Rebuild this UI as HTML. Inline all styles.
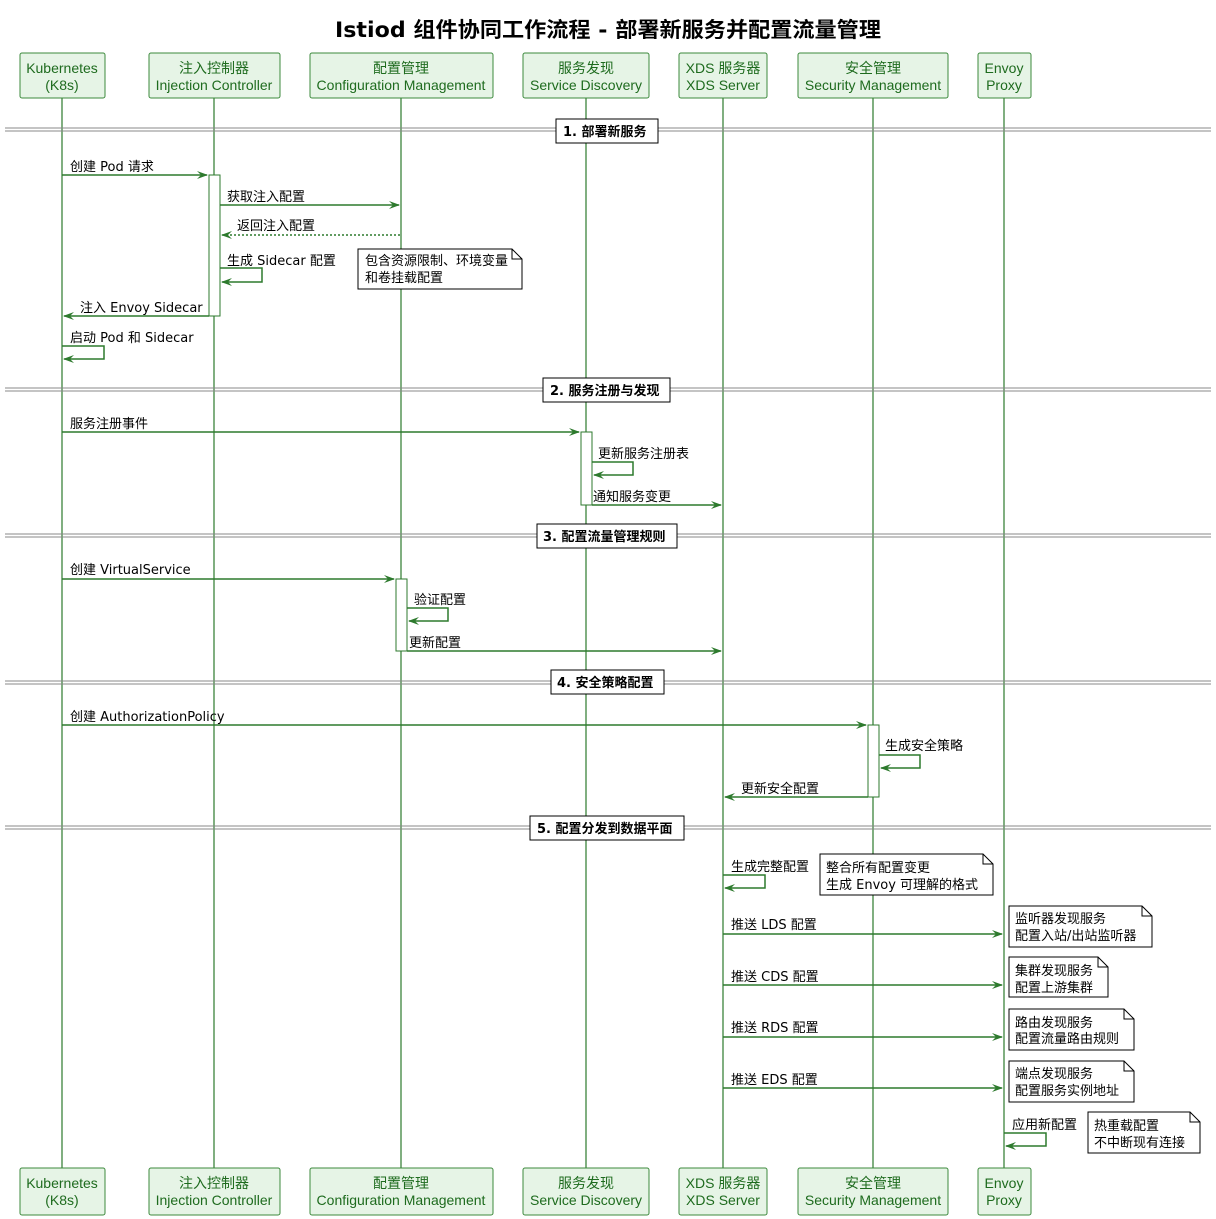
<!DOCTYPE html>
<html><head><meta charset="utf-8"><style>
html,body{margin:0;padding:0;background:#fff}
svg{display:block}
.t{font-family:"DejaVu Sans","Noto Sans CJK SC",sans-serif;font-size:13px;fill:#000}
.p{font-family:"Liberation Sans","Noto Sans CJK SC",sans-serif;font-size:14px;fill:#1e6b1e}
.s{font-family:"DejaVu Sans","Noto Sans CJK SC",sans-serif;font-size:13px;font-weight:bold;fill:#000}
</style></head><body>
<svg width="1216" height="1219" viewBox="0 0 1216 1219" xmlns="http://www.w3.org/2000/svg">
<text x="608" y="37" text-anchor="middle" font-family="DejaVu Sans,Noto Sans CJK SC,sans-serif" font-size="21" font-weight="bold" textLength="546" lengthAdjust="spacingAndGlyphs">Istiod 组件协同工作流程 - 部署新服务并配置流量管理</text>

<g stroke="#2d7a2d" stroke-width="1.2">
<line x1="62" y1="98" x2="62" y2="1168"/>
<line x1="214" y1="98" x2="214" y2="1168"/>
<line x1="401" y1="98" x2="401" y2="1168"/>
<line x1="586" y1="98" x2="586" y2="1168"/>
<line x1="723" y1="98" x2="723" y2="1168"/>
<line x1="873" y1="98" x2="873" y2="1168"/>
<line x1="1004" y1="98" x2="1004" y2="1168"/>
</g>

<g fill="#e6f4e6" stroke="#3c8a3c" stroke-width="1">
<rect x="20" y="53" width="85" height="45" rx="2"/>
<rect x="149" y="53" width="131" height="45" rx="2"/>
<rect x="310" y="53" width="183" height="45" rx="2"/>
<rect x="523" y="53" width="126" height="45" rx="2"/>
<rect x="679" y="53" width="88" height="45" rx="2"/>
<rect x="798" y="53" width="150" height="45" rx="2"/>
<rect x="978" y="53" width="53" height="45" rx="2"/>
<rect x="20" y="1168" width="85" height="47" rx="2"/>
<rect x="149" y="1168" width="131" height="47" rx="2"/>
<rect x="310" y="1168" width="183" height="47" rx="2"/>
<rect x="523" y="1168" width="126" height="47" rx="2"/>
<rect x="679" y="1168" width="88" height="47" rx="2"/>
<rect x="798" y="1168" width="150" height="47" rx="2"/>
<rect x="978" y="1168" width="53" height="47" rx="2"/>
</g>
<g class="p" text-anchor="middle">
<text x="62" y="73">Kubernetes</text><text x="62" y="90">(K8s)</text>
<text x="214" y="73">注入控制器</text><text x="214" y="90">Injection Controller</text>
<text x="401" y="73">配置管理</text><text x="401" y="90">Configuration Management</text>
<text x="586" y="73">服务发现</text><text x="586" y="90">Service Discovery</text>
<text x="723" y="73">XDS 服务器</text><text x="723" y="90">XDS Server</text>
<text x="873" y="73">安全管理</text><text x="873" y="90">Security Management</text>
<text x="1004" y="73">Envoy</text><text x="1004" y="90">Proxy</text>
<text x="62" y="1188">Kubernetes</text><text x="62" y="1205">(K8s)</text>
<text x="214" y="1188">注入控制器</text><text x="214" y="1205">Injection Controller</text>
<text x="401" y="1188">配置管理</text><text x="401" y="1205">Configuration Management</text>
<text x="586" y="1188">服务发现</text><text x="586" y="1205">Service Discovery</text>
<text x="723" y="1188">XDS 服务器</text><text x="723" y="1205">XDS Server</text>
<text x="873" y="1188">安全管理</text><text x="873" y="1205">Security Management</text>
<text x="1004" y="1188">Envoy</text><text x="1004" y="1205">Proxy</text>
</g>

<g stroke="#888" stroke-width="1">
<line x1="5" y1="128" x2="1211" y2="128"/><line x1="5" y1="131" x2="1211" y2="131"/>
<line x1="5" y1="388" x2="1211" y2="388"/><line x1="5" y1="391" x2="1211" y2="391"/>
<line x1="5" y1="534" x2="1211" y2="534"/><line x1="5" y1="537" x2="1211" y2="537"/>
<line x1="5" y1="681" x2="1211" y2="681"/><line x1="5" y1="684" x2="1211" y2="684"/>
<line x1="5" y1="826" x2="1211" y2="826"/><line x1="5" y1="829" x2="1211" y2="829"/>
</g>
<g fill="#fff" stroke="#000" stroke-width="1">
<rect x="556" y="119" width="102" height="24"/>
<rect x="543" y="378" width="127" height="24"/>
<rect x="537" y="524" width="140" height="24"/>
<rect x="551" y="670" width="113" height="24"/>
<rect x="530" y="816" width="154" height="24"/>
</g>
<g class="s">
<text x="563" y="136">1. 部署新服务</text>
<text x="550" y="395">2. 服务注册与发现</text>
<text x="543" y="541">3. 配置流量管理规则</text>
<text x="557" y="687">4. 安全策略配置</text>
<text x="537" y="833">5. 配置分发到数据平面</text>
</g>

<g fill="#fff" stroke="#2d7a2d" stroke-width="1">
<rect x="209" y="175" width="11" height="141"/>
<rect x="581" y="432" width="11" height="73"/>
<rect x="396" y="579" width="11" height="72"/>
<rect x="868" y="725" width="11" height="72"/>
</g>

<g stroke="#2d7a2d" stroke-width="1.5" fill="none">
<line x1="62" y1="175" x2="207" y2="175"/>
<line x1="220" y1="205" x2="399" y2="205"/>
<line x1="400" y1="235" x2="222" y2="235" stroke-dasharray="2,2"/>
<polyline points="220,268 262,268 262,282 222,282"/>
<line x1="209" y1="316" x2="64" y2="316"/>
<polyline points="62,346 104,346 104,359 64,359"/>
<line x1="62" y1="432" x2="579" y2="432"/>
<polyline points="592,462 633,462 633,475 594,475"/>
<line x1="592" y1="505" x2="721" y2="505"/>
<line x1="62" y1="579" x2="394" y2="579"/>
<polyline points="407,608 448,608 448,621 409,621"/>
<line x1="407" y1="651" x2="721" y2="651"/>
<line x1="62" y1="725" x2="866" y2="725"/>
<polyline points="879,755 920,755 920,768 881,768"/>
<line x1="868" y1="797" x2="725" y2="797"/>
<polyline points="723,875 765,875 765,888 725,888"/>
<line x1="723" y1="934" x2="1002" y2="934"/>
<line x1="723" y1="985" x2="1002" y2="985"/>
<line x1="723" y1="1037" x2="1002" y2="1037"/>
<line x1="723" y1="1088" x2="1002" y2="1088"/>
<polyline points="1004,1133 1046,1133 1046,1146 1006,1146"/>
</g>
<g fill="#2d7a2d">
<polygon points="208,175 197,171 201,175 197,179"/>
<polygon points="400,205 389,201 393,205 389,209"/>
<polygon points="221,235 232,231 228,235 232,239"/>
<polygon points="221,282 232,278 228,282 232,286"/>
<polygon points="63,316 74,312 70,316 74,320"/>
<polygon points="63,359 74,355 70,359 74,363"/>
<polygon points="580,432 569,428 573,432 569,436"/>
<polygon points="593,475 604,471 600,475 604,479"/>
<polygon points="722,505 711,501 715,505 711,509"/>
<polygon points="395,579 384,575 388,579 384,583"/>
<polygon points="408,621 419,617 415,621 419,625"/>
<polygon points="722,651 711,647 715,651 711,655"/>
<polygon points="867,725 856,721 860,725 856,729"/>
<polygon points="880,768 891,764 887,768 891,772"/>
<polygon points="724,797 735,793 731,797 735,801"/>
<polygon points="724,888 735,884 731,888 735,892"/>
<polygon points="1003,934 992,930 996,934 992,938"/>
<polygon points="1003,985 992,981 996,985 992,989"/>
<polygon points="1003,1037 992,1033 996,1037 992,1041"/>
<polygon points="1003,1088 992,1084 996,1088 992,1092"/>
<polygon points="1005,1146 1016,1142 1012,1146 1016,1150"/>
</g>
<g class="t">
<text x="70" y="171">创建 Pod 请求</text>
<text x="227" y="201">获取注入配置</text>
<text x="237" y="230">返回注入配置</text>
<text x="227" y="265">生成 Sidecar 配置</text>
<text x="80" y="312">注入 Envoy Sidecar</text>
<text x="70" y="342">启动 Pod 和 Sidecar</text>
<text x="70" y="428">服务注册事件</text>
<text x="598" y="458">更新服务注册表</text>
<text x="593" y="501">通知服务变更</text>
<text x="70" y="574">创建 VirtualService</text>
<text x="414" y="604">验证配置</text>
<text x="409" y="647">更新配置</text>
<text x="70" y="721">创建 AuthorizationPolicy</text>
<text x="885" y="750">生成安全策略</text>
<text x="741" y="793">更新安全配置</text>
<text x="731" y="871">生成完整配置</text>
<text x="731" y="929">推送 LDS 配置</text>
<text x="731" y="981">推送 CDS 配置</text>
<text x="731" y="1032">推送 RDS 配置</text>
<text x="731" y="1084">推送 EDS 配置</text>
<text x="1012" y="1129">应用新配置</text>
</g>

<g fill="#fff" stroke="#000" stroke-width="1">
<path d="M358,249 H512 L522,259 V289 H358 Z M512,249 V259 H522"/>
<path d="M820,854 H983 L993,864 V895 H820 Z M983,854 V864 H993"/>
<path d="M1009,906 H1142 L1152,916 V947 H1009 Z M1142,906 V916 H1152"/>
<path d="M1009,957 H1098 L1108,967 V997 H1009 Z M1098,957 V967 H1108"/>
<path d="M1009,1009 H1124 L1134,1019 V1050 H1009 Z M1124,1009 V1019 H1134"/>
<path d="M1009,1061 H1124 L1134,1071 V1102 H1009 Z M1124,1061 V1071 H1134"/>
<path d="M1088,1112 H1190 L1200,1122 V1153 H1088 Z M1190,1112 V1122 H1200"/>
</g>
<g class="t" font-size="12">
<text x="365" y="265">包含资源限制、环境变量</text><text x="365" y="282">和卷挂载配置</text>
<text x="826" y="872">整合所有配置变更</text><text x="826" y="889">生成 Envoy 可理解的格式</text>
<text x="1015" y="923">监听器发现服务</text><text x="1015" y="940">配置入站/出站监听器</text>
<text x="1015" y="975">集群发现服务</text><text x="1015" y="992">配置上游集群</text>
<text x="1015" y="1027">路由发现服务</text><text x="1015" y="1043">配置流量路由规则</text>
<text x="1015" y="1078">端点发现服务</text><text x="1015" y="1095">配置服务实例地址</text>
<text x="1094" y="1130">热重载配置</text><text x="1094" y="1147">不中断现有连接</text>
</g>
</svg>
</body></html>
